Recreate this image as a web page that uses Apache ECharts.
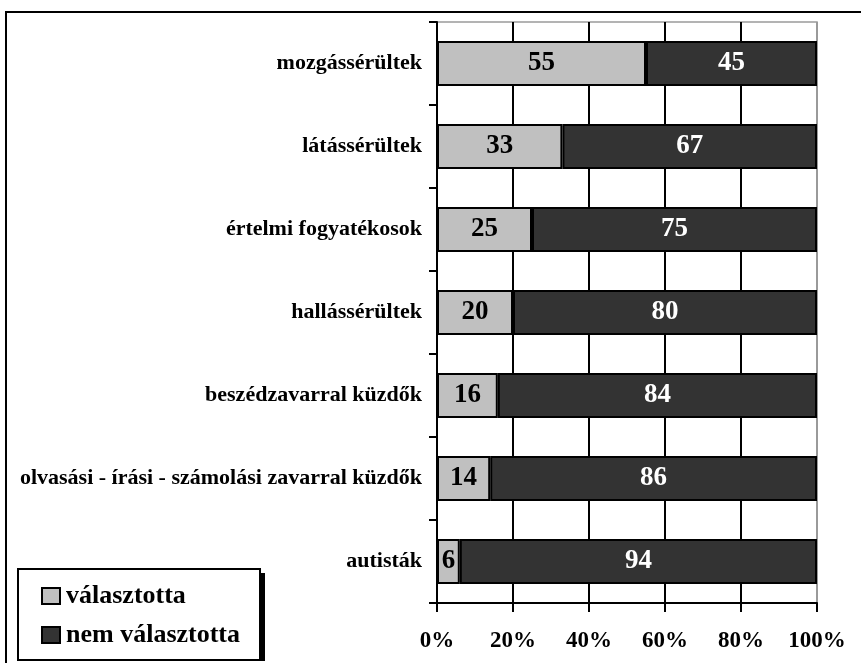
<!DOCTYPE html>
<html>
<head>
<meta charset="utf-8">
<script src="https://cdn.jsdelivr.net/npm/echarts@6/dist/echarts.min.js"></script>
<style>
  html, body { margin: 0; padding: 0; background: #fff; }
  #chart { width: 861px; height: 663px; }
</style>
</head>
<body>
<div id="chart"></div>
<script>
// categories top to bottom
const categories = [
  'mozgássérültek',
  'látássérültek',
  'értelmi fogyatékosok',
  'hallássérültek',
  'beszédzavarral küzdők',
  'olvasási - írási - számolási zavarral küzdők',
  'autisták'
];
const chose = [55, 33, 25, 20, 16, 14, 6];
const notChose = [45, 67, 75, 80, 84, 86, 94];
const xTicks = [0, 20, 40, 60, 80, 100];

const serif = '"Liberation Serif", "Times New Roman", serif';

let chartDom = document.getElementById('chart');
let myChart = echarts.init(chartDom, null, { renderer: 'canvas' });

let option = {
  animation: false,
  backgroundColor: '#fff',
  graphic: [
    {
      // outer frame
      type: 'rect',
      z: -10,
      shape: { x: 6, y: 12, width: 900, height: 700 },
      style: { fill: 'none', stroke: '#000', lineWidth: 2 }
    },
    {
      // legend drop shadow
      type: 'rect',
      z: 3,
      shape: { x: 23, y: 573, width: 242, height: 88 },
      style: { fill: '#000' }
    }
  ],
  grid: {
    left: 437, right: 44, top: 22, bottom: 60,
    show: true,
    borderColor: '#9a9a9a',
    borderWidth: 1.5,
    backgroundColor: 'transparent'
  },
  legend: {
    z: 10,
    orient: 'vertical',
    left: 18,
    top: 569,
    padding: [14, 20, 12, 23],
    itemGap: 13,
    itemWidth: 18,
    itemHeight: 16,
    icon: 'rect',
    backgroundColor: '#fff',
    borderColor: '#000',
    borderWidth: 2,
    textStyle: { fontFamily: serif, fontWeight: 'bold', fontSize: 26, color: '#000', padding: [0, 0, 0, 1] },
    data: ['választotta', 'nem választotta']
  },
  xAxis: {
    type: 'value',
    min: 0,
    max: 100,
    interval: 20,
    axisLine: { show: true, lineStyle: { color: '#000', width: 2 } },
    axisTick: { show: true, length: 9, lineStyle: { color: '#000', width: 2 } },
    splitLine: { show: true, lineStyle: { color: ['#000', '#000', '#000', '#000', '#000', '#9a9a9a'], width: 2 } },
    axisLabel: {
      margin: 27,
      fontFamily: serif, fontWeight: 'bold', fontSize: 23, color: '#000',
      formatter: function (v) { return xTicks.indexOf(v) >= 0 ? v + '%' : ''; }
    }
  },
  yAxis: {
    type: 'category',
    inverse: true,
    data: categories,
    axisLine: { show: true, lineStyle: { color: '#000', width: 2 } },
    axisTick: { show: true, length: 8, lineStyle: { color: '#000', width: 2 } },
    axisLabel: { margin: 15, fontFamily: serif, fontWeight: 'bold', fontSize: 22, color: '#000' }
  },
  series: [
    {
      name: 'választotta',
      type: 'bar',
      stack: 'total',
      barWidth: '54%',
      data: chose,
      itemStyle: { color: '#c0c0c0', borderColor: '#000', borderWidth: 2 },
      label: {
        show: true, position: 'inside',
        fontFamily: serif, fontWeight: 'bold', fontSize: 27, color: '#000'
      }
    },
    {
      name: 'nem választotta',
      type: 'bar',
      stack: 'total',
      barWidth: '54%',
      data: notChose,
      itemStyle: { color: '#333333', borderColor: '#000', borderWidth: 2 },
      label: {
        show: true, position: 'inside',
        fontFamily: serif, fontWeight: 'bold', fontSize: 27, color: '#fff'
      }
    }
  ]
};

option && myChart.setOption(option);
</script>
</body>
</html>
